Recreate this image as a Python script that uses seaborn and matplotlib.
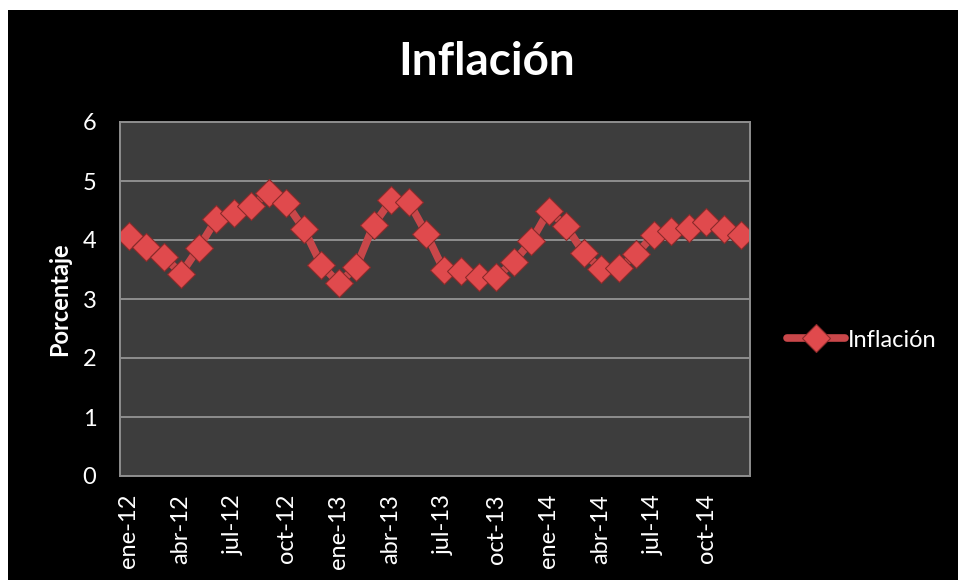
import numpy as np
import pandas as pd
import matplotlib
matplotlib.use("Agg")
import matplotlib.pyplot as plt
from matplotlib.patches import Rectangle
import seaborn as sns

# ── data ──
MESES = ["ene", "feb", "mar", "abr", "may", "jun",
         "jul", "ago", "sep", "oct", "nov", "dic"]
ANIOS = ["12", "13", "14"]
inflacion = [4.06, 3.88, 3.72, 3.43, 3.87, 4.35, 4.45, 4.58, 4.80, 4.62, 4.19, 3.58,
             3.27, 3.54, 4.26, 4.68, 4.65, 4.11, 3.49, 3.48, 3.38, 3.37, 3.63, 3.98,
             4.50, 4.23, 3.78, 3.51, 3.52, 3.76, 4.09, 4.16, 4.21, 4.31, 4.18, 4.09]
etiquetas = [f"{m}-{a}" for a in ANIOS for m in MESES]

df = pd.DataFrame({"pos": np.arange(len(inflacion)), "mes": etiquetas,
                   "valor": inflacion, "serie": "Inflación"})

sns.set_style("dark")
plt.rcParams["font.family"] = ["Lato", "DejaVu Sans"]

fig = plt.figure(figsize=(9.58, 5.8), dpi=100)
fig.patch.set_facecolor("white")
# black chart frame (leaves a thin white margin top/left)
fig.add_artist(Rectangle((8 / 958, 0), 1, 1 - 10 / 580, transform=fig.transFigure,
                         facecolor="black", edgecolor="none", zorder=-10))

ax = fig.add_axes([120 / 958, 104 / 580, 630 / 958, 354 / 580])
ax.set_facecolor("#3d3d3d")

sns.lineplot(data=df, x="pos", y="valor", hue="serie", palette=["#c9474a"],
             marker="D", markersize=14, linewidth=5.5, markerfacecolor="#e04a4d",
             markeredgecolor="#8a2a2a", markeredgewidth=0.8, ax=ax)

ax.set_xlim(-0.5, len(inflacion) - 0.5)
ax.set_ylim(0, 6)
ax.set_yticks(range(0, 7))
ax.set_xticks(df["pos"][::3])
ax.set_xticklabels(df["mes"][::3], rotation=90)
ax.yaxis.grid(True, color="#8e8e8e", linewidth=1.4)
ax.xaxis.grid(False)
for s in ax.spines.values():
    s.set_visible(True)
    s.set_color("#8e8e8e")
    s.set_linewidth(1.4)
ax.tick_params(axis="both", colors="white", labelsize=17, length=0)
ax.tick_params(axis="y", pad=17)
ax.tick_params(axis="x", pad=13)
ax.set_xlabel("")
ax.set_ylabel("Porcentaje", color="white", fontsize=17, fontweight="bold", labelpad=8)

fig.text(487 / 958, 1 - 62 / 580, "Inflación", color="white", fontsize=33,
         fontweight="bold", ha="center", va="center")

leg = ax.legend(loc="center left", bbox_to_anchor=(1.059, 0.384), frameon=False,
                borderpad=0, borderaxespad=0, handlelength=2.45, fontsize=17,
                labelcolor="white", handletextpad=0.1)
for h in leg.legend_handles:
    h.set_markersize(14)

fig.savefig("out.png", dpi=100, facecolor=fig.get_facecolor())
